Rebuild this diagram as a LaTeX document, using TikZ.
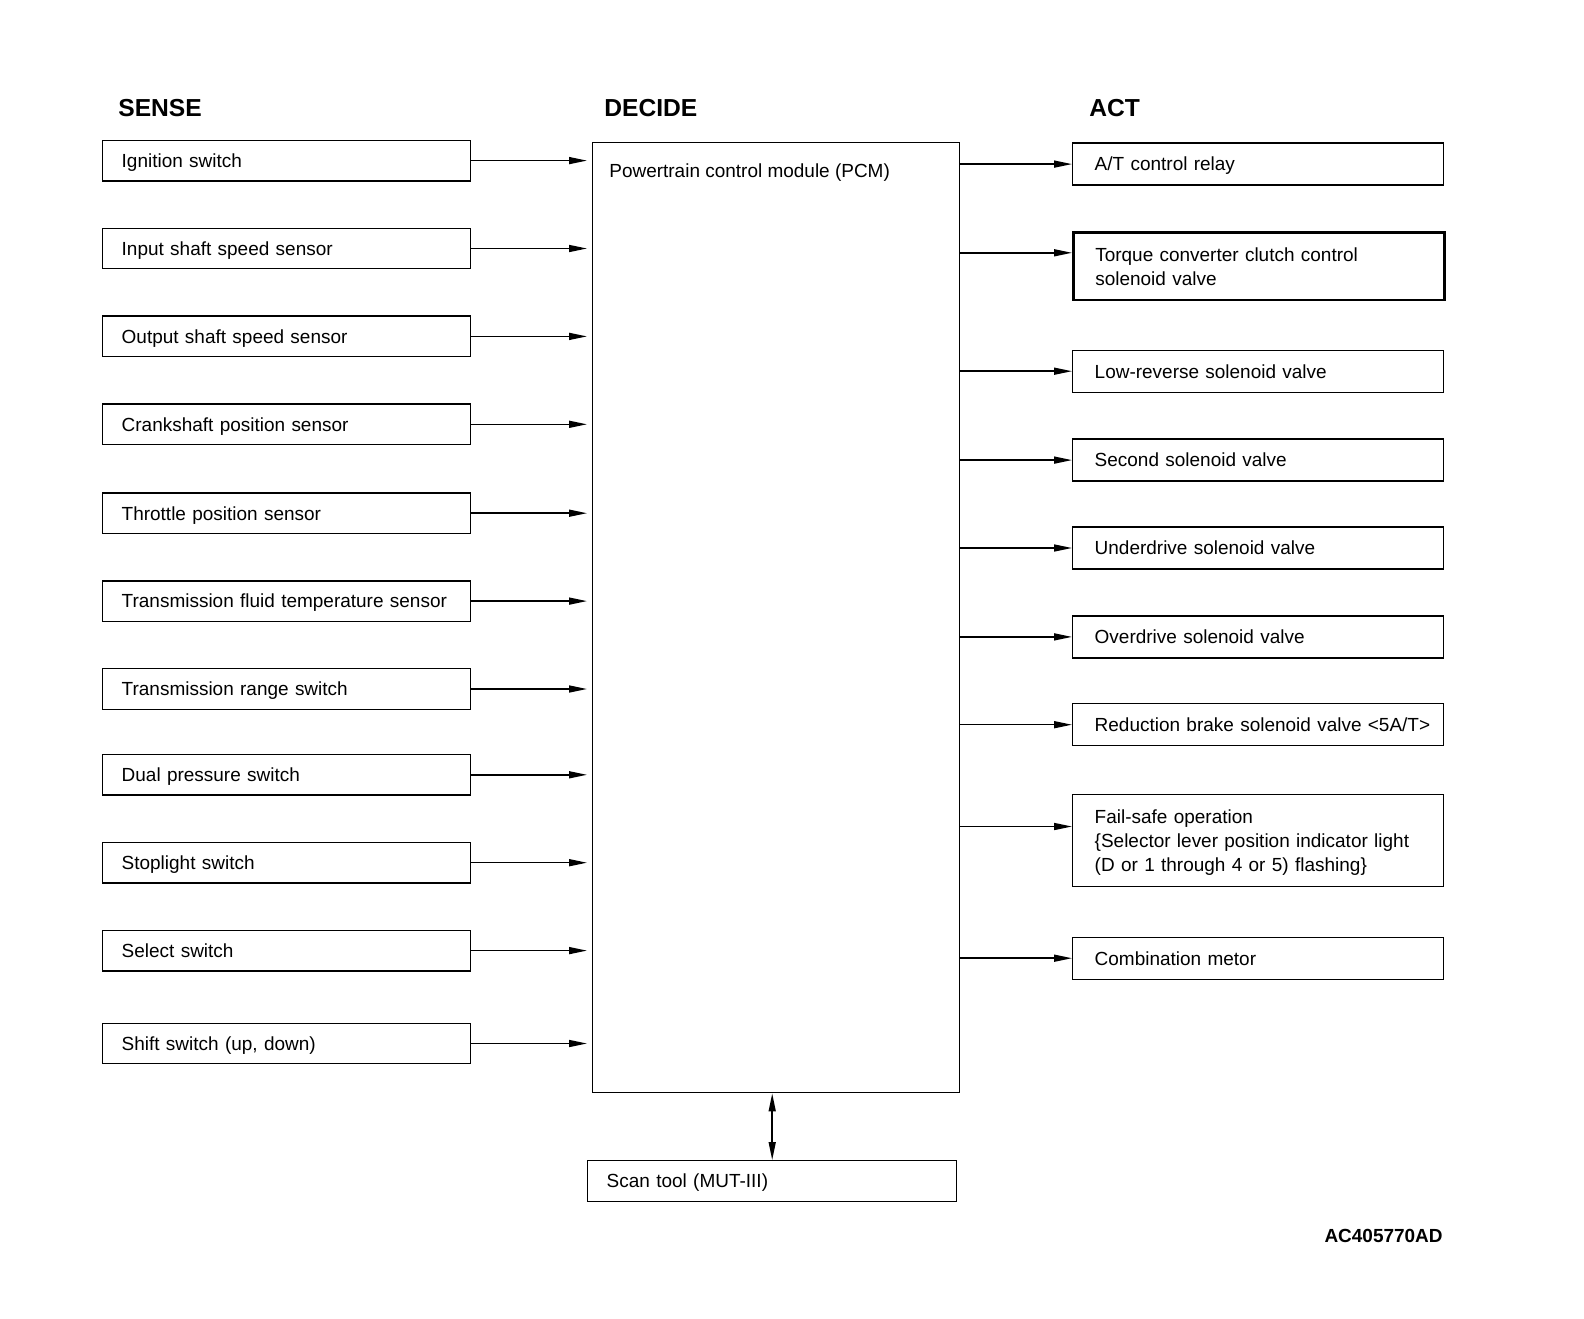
\documentclass[tikz,border=0pt]{standalone}
\usepackage{fontspec}
\setmainfont{Liberation Sans}
\usetikzlibrary{arrows.meta,positioning}

\begin{document}
\begin{tikzpicture}[x=0.2mm, y=-0.2mm,
    head/.style={anchor=west, inner sep=0pt, font=\fontsize{14}{16}\selectfont\bfseries},
    sense/.style={rectangle, draw, anchor=west, line width=0.28mm, minimum height=8.1mm, text width=65.9mm, inner xsep=3.8mm, text depth=0pt, align=left, font=\fontsize{10.8}{13.6}\selectfont},
    act/.style={rectangle, draw, anchor=north west, line width=0.28mm, minimum height=8.4mm, text width=65.4mm, inner xsep=4.4mm, text depth=0pt, align=left, font=\fontsize{10.8}{13.6}\selectfont},
    pcmbox/.style={rectangle, draw, anchor=north west, line width=0.28mm, minimum width=73.4mm, minimum height=190mm},
    arr/.style={-{Triangle[length=3.6mm,width=1.4mm]}, line width=0.3mm},
    dbl/.style={{Triangle[length=3.6mm,width=1.4mm]}-{Triangle[length=3.6mm,width=1.4mm]}, line width=0.3mm}
]
    \useasboundingbox (0,0) rectangle (1584,1318);

    % column headings
    \node[head] (hsense) at (118,108) {SENSE};
    \node[head] (hdecide) at (604,108) {DECIDE};
    \node[head] (hact) at (1089,108) {ACT};

    % inputs
    \node[sense] (ign) at (102,160.6) {Ignition switch};
    \node[sense] (iss) at (102,248.5) {Input shaft speed sensor};
    \node[sense] (oss) at (102,336.4) {Output shaft speed sensor};
    \node[sense] (ckp) at (102,424.3) {Crankshaft position sensor};
    \node[sense] (tps) at (102,513.2) {Throttle position sensor};
    \node[sense] (tft) at (102,601.1) {Transmission fluid temperature sensor};
    \node[sense] (trs) at (102,689) {Transmission range switch};
    \node[sense] (dps) at (102,774.8) {Dual pressure switch};
    \node[sense] (stp) at (102,862.7) {Stoplight switch};
    \node[sense] (sel) at (102,950.6) {Select switch};
    \node[sense] (shf) at (102,1043.5) {Shift switch (up, down)};

    % control module
    \node[pcmbox] (pcm) at (592,142) {};
    \node[anchor=west, inner sep=0pt, text depth=0pt, font=\fontsize{10.8}{13.6}\selectfont] (pcmtxt) at (609,171) {Powertrain control module (PCM)};

    % outputs
    \node[act] (atr) at (1072,142.4) {A/T control relay};
    \node[act, minimum height=13.5mm, line width=0.5mm, text depth=13.6pt] (tcc) at (1072,231.3) {Torque converter clutch control\\solenoid valve};
    \node[act] (lrs) at (1072,349.5) {Low-reverse solenoid valve};
    \node[act] (sec) at (1072,438.4) {Second solenoid valve};
    \node[act] (uds) at (1072,526.3) {Underdrive solenoid valve};
    \node[act] (ods) at (1072,615.2) {Overdrive solenoid valve};
    \node[act] (rbs) at (1072,703) {\mbox{Reduction brake solenoid valve <5A/T>}};
    \node[act, minimum height=18.4mm, text depth=27.2pt] (fsf) at (1072,794) {Fail-safe operation\\\{Selector lever position indicator light\\(D or 1 through 4 or 5) flashing\}};
    \node[act] (cmb) at (1072,936.5) {Combination metor};

    % scan tool
    \node[sense, anchor=north west, text width=66.2mm] (scan) at (587,1160) {Scan tool (MUT-III)};

    \node[anchor=east, inner sep=0pt, font=\fontsize{10.8}{12}\selectfont\bfseries] (code) at (1443,1235.5) {AC405770AD};

    % inputs to PCM
    \draw[arr, shorten >=1mm] (ign.east) -- (ign.east -| pcm.west);
    \draw[arr, shorten >=1mm] (iss.east) -- (iss.east -| pcm.west);
    \draw[arr, shorten >=1mm] (oss.east) -- (oss.east -| pcm.west);
    \draw[arr, shorten >=1mm] (ckp.east) -- (ckp.east -| pcm.west);
    \draw[arr, shorten >=1mm] (tps.east) -- (tps.east -| pcm.west);
    \draw[arr, shorten >=1mm] (tft.east) -- (tft.east -| pcm.west);
    \draw[arr, shorten >=1mm] (trs.east) -- (trs.east -| pcm.west);
    \draw[arr, shorten >=1mm] (dps.east) -- (dps.east -| pcm.west);
    \draw[arr, shorten >=1mm] (stp.east) -- (stp.east -| pcm.west);
    \draw[arr, shorten >=1mm] (sel.east) -- (sel.east -| pcm.west);
    \draw[arr, shorten >=1mm] (shf.east) -- (shf.east -| pcm.west);

    % PCM to outputs
    \coordinate (tccin) at ([yshift=-4.3mm]tcc.north west);
    \coordinate (fsfin) at ([yshift=-6.5mm]fsf.north west);
    \draw[arr] (pcm.east |- atr.west) -- (atr.west);
    \draw[arr] (pcm.east |- tccin) -- (tccin);
    \draw[arr] (pcm.east |- lrs.west) -- (lrs.west);
    \draw[arr] (pcm.east |- sec.west) -- (sec.west);
    \draw[arr] (pcm.east |- uds.west) -- (uds.west);
    \draw[arr] (pcm.east |- ods.west) -- (ods.west);
    \draw[arr] (pcm.east |- rbs.west) -- (rbs.west);
    \draw[arr] (pcm.east |- fsfin) -- (fsfin);
    \draw[arr] (pcm.east |- cmb.west) -- (cmb.west);

    % scan tool link
    \draw[dbl] (scan.north) -- (scan.north |- pcm.south);
\end{tikzpicture}
\end{document}
